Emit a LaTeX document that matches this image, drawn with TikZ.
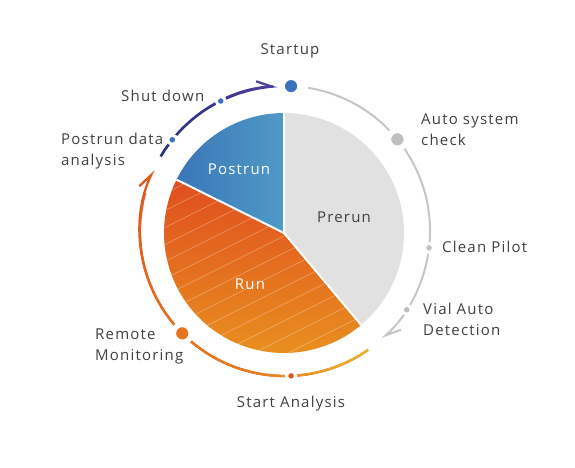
\documentclass[tikz,border=0pt]{standalone}
\usepackage{fontspec}
\setmainfont{Open Sans}[LetterSpace=8]
\usetikzlibrary{arrows.meta}
\tikzset{>=stealth}
\definecolor{txtgray}{RGB}{64,64,64}
\definecolor{pregray}{RGB}{225,225,225}
\definecolor{postblueA}{RGB}{57,118,184}
\definecolor{postblueB}{RGB}{80,154,198}
\definecolor{runred}{RGB}{224,78,30}
\definecolor{runorange}{RGB}{233,148,32}
\definecolor{ringgray}{RGB}{198,198,198}
\definecolor{dotgray}{RGB}{192,192,192}
\definecolor{dotblue}{RGB}{59,111,191}
\definecolor{arcnavy}{RGB}{38,48,122}
\definecolor{arcpurple}{RGB}{78,62,158}
\definecolor{arcyellow}{RGB}{236,182,42}
\definecolor{arcorange}{RGB}{232,125,30}
\definecolor{arcred}{RGB}{222,88,30}
\definecolor{dotorange}{RGB}{230,116,28}
\definecolor{dotred}{RGB}{224,84,30}

\begin{document}
\begin{tikzpicture}[x=1pt, y=1pt,
    lbl/.style={text=txtgray, font=\fontsize{15}{21}\selectfont, align=left, inner sep=0pt},
    slice/.style={font=\fontsize{15}{18}\selectfont, inner sep=0pt},
    bigdot/.style={circle, inner sep=0pt, minimum size=18pt, draw=white, line width=5.5pt},
    smalldot/.style={circle, inner sep=0pt, minimum size=9pt, draw=white, line width=3pt},
    ring/.style={line width=2.3pt},
    barb/.style={-{Straight Barb[left, length=15pt, width=12pt]}}]
    \useasboundingbox (-284,-234) rectangle (291,233);
    \coordinate (c) at (0,0);
    \fill[pregray] (c) -- (90:120) arc (90:-50:120) -- cycle;
    \shade[left color=postblueA, right color=postblueB] (c) -- (153.6:120) arc (153.6:90:120) -- cycle;
    \shade[top color=runred, bottom color=runorange] (c) -- (-50:120) arc (-50:-206.4:120) -- cycle;
    \begin{scope}
        \clip (c) -- (-50:120) arc (-50:-206.4:120) -- cycle;
        \foreach \k in {-16,...,5}
            \draw[white, opacity=.35, line width=.6pt] (-130,\k*17) -- ++(260,130);
    \end{scope}
    \draw[white, line width=2pt] (90:120) -- (c) -- (-50:120);
    \draw[white, line width=2pt] (c) -- (153.6:120);
    \node[slice, text=white, anchor=base] (postrun) at (-45,59) {Postrun};
    \node[slice, text=txtgray, anchor=base] (prerun) at (60,11) {Prerun};
    \node[slice, text=white, anchor=base] (run) at (-34,-56) {Run};
    \begin{scope}[shift={(1,2)}]
        \draw[ring, ringgray, line width=2pt, barb] (80.8:145) arc (80.8:-48:145);
        \draw[ring, arcpurple, barb] (149:145) arc (149:93:145);
        \foreach \a in {149,147,...,97} {
            \pgfmathsetmacro\p{(149-\a)/56*100}
            \draw[ring, arcpurple!\p!arcnavy] (\a:145) arc (\a:\a-2.3:145);
        }
        \draw[ring, arcred, barb] (-55:145) arc (-55:-205:145);
        \foreach \a in {-55,-57,...,-193} {
            \pgfmathsetmacro\pa{min(100,(-55-\a)/45*100)}
            \pgfmathsetmacro\pb{max(0,(-100-\a)/105*100)}
            \colorlet{segc}{arcorange!\pa!arcyellow}
            \draw[ring, arcred!\pb!segc] (\a:145) arc (\a:\a-2.3:145);
        }
        \node[bigdot, fill=dotblue] (startup) at (87.6:145) {};
        \node[bigdot, fill=dotgray] (autocheck) at (39.2:145) {};
        \node[smalldot, fill=dotgray] (cleanpilot) at (-6.7:145) {};
        \node[smalldot, fill=dotgray] (vialdetect) at (-32.9:145) {};
        \node[smalldot, fill=dotred] (startanalysis) at (-87.6:145) {};
        \node[bigdot, fill=dotorange] (remote) at (-135.1:145) {};
        \node[smalldot, fill=dotblue] (postanalysis) at (141:145) {};
        \node[smalldot, fill=dotblue] (shutdown) at (116.3:145) {};
    \end{scope}
    \node[lbl, anchor=base] (startup-l) at (6,179) {Startup};
    \node[lbl, anchor=base west] (autocheck-l) at (137,87.3) {Auto system\\check};
    \node[lbl, anchor=base west] (cleanpilot-l) at (158,-19.7) {Clean Pilot};
    \node[lbl, anchor=base west] (vialdetect-l) at (139,-102.3) {Vial Auto\\Detection};
    \node[lbl, anchor=base] (startanalysis-l) at (7,-174.7) {Start Analysis};
    \node[lbl, anchor=base west] (remote-l) at (-189,-127.3) {Remote\\Monitoring};
    \node[lbl, anchor=base west] (postanalysis-l) at (-223,68) {Postrun data\\analysis};
    \node[lbl, anchor=base west] (shutdown-l) at (-163,131.3) {Shut down};
\end{tikzpicture}
\end{document}
